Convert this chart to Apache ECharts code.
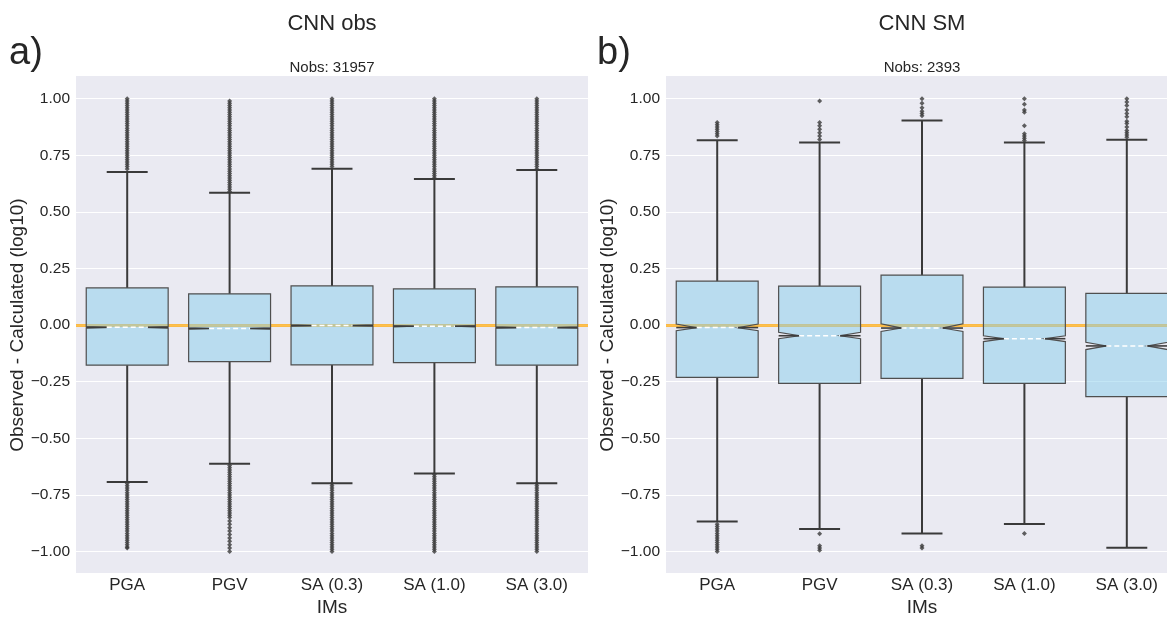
<!DOCTYPE html>
<html>
<head>
<meta charset="utf-8">
<script src="https://cdn.jsdelivr.net/npm/echarts@6/dist/echarts.min.js"></script>
<style>
html,body{margin:0;padding:0;background:#fff;overflow:hidden;}
#chart{width:1190px;height:617px;}
</style>
</head>
<body>
<div id="chart"></div>
<script>
// ---------------- data ----------------
const categories = ['PGA', 'PGV', 'SA (0.3)', 'SA (1.0)', 'SA (3.0)'];
const panelTitles = ['CNN obs', 'CNN SM'];
const panelLetters = ['a)', 'b)'];
const panelCounts = ['Nobs: 31957', 'Nobs: 2393'];
const xAxisTitle = 'IMs';
const yAxisTitle = 'Observed - Calculated (log10)';
const referenceValue = 0;

// Panel a) CNN obs
const obsWhiskerLow  = [-0.693, -0.612, -0.699, -0.655, -0.698];
const obsQ1          = [-0.177, -0.161, -0.176, -0.166, -0.177];
const obsNotchLow    = [-0.013, -0.018, -0.005, -0.008, -0.014];
const obsMedian      = [-0.010, -0.015, -0.002, -0.005, -0.011];
const obsNotchHigh   = [-0.007, -0.012,  0.001, -0.002, -0.008];
const obsQ3          = [ 0.164,  0.138,  0.173,  0.160,  0.169];
const obsWhiskerHigh = [ 0.676,  0.585,  0.691,  0.645,  0.685];
const obsOutliers = [
  [0.69,0.70,0.71,0.72,0.73,0.74,0.75,0.76,0.77,0.78,0.79,0.80,0.81,0.82,0.83,0.84,0.85,0.86,0.87,0.88,0.89,0.90,0.91,0.92,0.93,0.94,0.95,0.96,0.97,0.98,0.99,1.00,
   -0.70,-0.71,-0.72,-0.73,-0.74,-0.75,-0.76,-0.77,-0.78,-0.79,-0.80,-0.81,-0.82,-0.83,-0.84,-0.85,-0.86,-0.87,-0.88,-0.89,-0.90,-0.91,-0.92,-0.93,-0.94,-0.95,-0.96,-0.97,-0.98,-0.985],
  [0.59,0.60,0.61,0.62,0.63,0.64,0.65,0.66,0.67,0.68,0.69,0.70,0.71,0.72,0.73,0.74,0.75,0.76,0.77,0.78,0.79,0.80,0.81,0.82,0.83,0.84,0.85,0.86,0.87,0.88,0.89,0.90,0.91,0.92,0.93,0.94,0.95,0.96,0.97,0.98,0.99,
   -0.62,-0.63,-0.64,-0.65,-0.66,-0.67,-0.68,-0.69,-0.70,-0.71,-0.72,-0.73,-0.74,-0.75,-0.76,-0.77,-0.78,-0.79,-0.80,-0.81,-0.82,-0.83,-0.84,-0.85,-0.865,-0.88,-0.895,-0.91,-0.925,-0.94,-0.955,-0.97,-0.985,-1.00],
  [0.70,0.71,0.72,0.73,0.74,0.75,0.76,0.77,0.78,0.79,0.80,0.81,0.82,0.83,0.84,0.85,0.86,0.87,0.88,0.89,0.90,0.91,0.92,0.93,0.94,0.95,0.96,0.97,0.98,0.99,1.00,
   -0.70,-0.71,-0.72,-0.73,-0.74,-0.75,-0.76,-0.77,-0.78,-0.79,-0.80,-0.81,-0.82,-0.83,-0.84,-0.85,-0.86,-0.87,-0.88,-0.89,-0.90,-0.91,-0.92,-0.93,-0.94,-0.95,-0.96,-0.97,-0.98,-0.99,-1.00],
  [0.65,0.66,0.67,0.68,0.69,0.70,0.71,0.72,0.73,0.74,0.75,0.76,0.77,0.78,0.79,0.80,0.81,0.82,0.83,0.84,0.85,0.86,0.87,0.88,0.89,0.90,0.91,0.92,0.93,0.94,0.95,0.96,0.97,0.98,0.99,1.00,
   -0.66,-0.67,-0.68,-0.69,-0.70,-0.71,-0.72,-0.73,-0.74,-0.75,-0.76,-0.77,-0.78,-0.79,-0.80,-0.81,-0.82,-0.83,-0.84,-0.85,-0.86,-0.87,-0.88,-0.89,-0.90,-0.91,-0.92,-0.93,-0.94,-0.95,-0.96,-0.97,-0.98,-0.99,-1.00],
  [0.69,0.70,0.71,0.72,0.73,0.74,0.75,0.76,0.77,0.78,0.79,0.80,0.81,0.82,0.83,0.84,0.85,0.86,0.87,0.88,0.89,0.90,0.91,0.92,0.93,0.94,0.95,0.96,0.97,0.98,0.99,1.00,
   -0.70,-0.71,-0.72,-0.73,-0.74,-0.75,-0.76,-0.77,-0.78,-0.79,-0.80,-0.81,-0.82,-0.83,-0.84,-0.85,-0.86,-0.87,-0.88,-0.89,-0.90,-0.91,-0.92,-0.93,-0.94,-0.95,-0.96,-0.97,-0.98,-0.99,-1.00]
];

// Panel b) CNN SM
const smWhiskerLow  = [-0.867, -0.901, -0.921, -0.879, -0.983];
const smQ1          = [-0.231, -0.257, -0.235, -0.257, -0.316];
const smNotchLow    = [-0.025, -0.060, -0.028, -0.073, -0.108];
const smMedian      = [-0.011, -0.047, -0.013, -0.060, -0.092];
const smNotchHigh   = [ 0.005, -0.032,  0.006, -0.047, -0.076];
const smQ3          = [ 0.194,  0.172,  0.221,  0.168,  0.140];
const smWhiskerHigh = [ 0.816,  0.806,  0.904,  0.806,  0.819];
const smOutliers = [
  [0.835,0.845,0.855,0.865,0.875,0.885,0.895,
   -0.88,-0.89,-0.90,-0.91,-0.92,-0.93,-0.94,-0.95,-0.96,-0.97,-0.98,-0.99,-1.00],
  [0.82,0.835,0.85,0.865,0.88,0.895,0.99,
   -0.922,-0.975,-0.985,-0.995],
  [0.925,0.935,0.945,0.96,0.98,1.00,
   -0.975,-0.985],
  [0.815,0.825,0.835,0.845,0.88,0.94,0.95,0.975,1.00,
   -0.92],
  [0.83,0.84,0.85,0.86,0.875,0.89,0.90,0.92,0.935,0.95,0.97,0.985,1.00]
];

// ---------------- build ----------------
const FONT = '"Liberation Sans", Arial, sans-serif';
const TEXT = '#262626';

function boxRows(wl, q1, nl, md, nh, q3, wh) {
  return categories.map((c, i) => [i, wl[i], q1[i], nl[i], md[i], nh[i], q3[i], wh[i]]);
}
function outlierRows(list) {
  const rows = [];
  list.forEach((vals, i) => vals.forEach(v => rows.push([i, v])));
  return rows;
}

function renderBox(params, api) {
  const i = api.value(0);
  const wl = api.value(1), q1 = api.value(2), nl = api.value(3), md = api.value(4),
        nh = api.value(5), q3 = api.value(6), wh = api.value(7);
  const band = api.size([1, 0])[0];
  const bw = band * 0.8, half = bw / 2, ind = bw * 0.25, capHalf = bw * 0.25;
  const cx = api.coord([i, 0])[0];
  const y = v => api.coord([i, v])[1];
  const L = cx - half, R = cx + half;
  const whiskerStyle = { stroke: '#3a3a3a', lineWidth: 2 };
  return {
    type: 'group',
    children: [
      { type: 'line', shape: { x1: cx, y1: y(q3), x2: cx, y2: y(wh) }, style: whiskerStyle },
      { type: 'line', shape: { x1: cx, y1: y(q1), x2: cx, y2: y(wl) }, style: whiskerStyle },
      { type: 'line', shape: { x1: cx - capHalf, y1: y(wh), x2: cx + capHalf, y2: y(wh) }, style: whiskerStyle },
      { type: 'line', shape: { x1: cx - capHalf, y1: y(wl), x2: cx + capHalf, y2: y(wl) }, style: whiskerStyle },
      { type: 'polygon', shape: { points: [
          [L, y(q3)], [R, y(q3)], [R, y(nh)], [R - ind, y(md)], [R, y(nl)], [R, y(q1)],
          [L, y(q1)], [L, y(nl)], [L + ind, y(md)], [L, y(nh)]
        ] },
        style: { fill: 'rgba(135,206,235,0.5)', stroke: '#4f4f4f', lineWidth: 1.2 } },
      { type: 'line', shape: { x1: L, y1: y(md), x2: L + ind, y2: y(md) }, style: { stroke: '#3d3d3d', lineWidth: 1.6 } },
      { type: 'line', shape: { x1: R - ind, y1: y(md), x2: R, y2: y(md) }, style: { stroke: '#3d3d3d', lineWidth: 1.6 } },
      { type: 'line', shape: { x1: L + ind, y1: y(md), x2: R - ind, y2: y(md) },
        style: { stroke: '#ffffff', lineWidth: 1.5, lineDash: [5, 3] } }
    ]
  };
}

const gridLefts = [76, 666];
const gridWidth = 512;
const gridTop = 98.7;
const gridHeight = 452.8;
const bgTop = 76, bgHeight = 497;

const boxes = [
  boxRows(obsWhiskerLow, obsQ1, obsNotchLow, obsMedian, obsNotchHigh, obsQ3, obsWhiskerHigh),
  boxRows(smWhiskerLow, smQ1, smNotchLow, smMedian, smNotchHigh, smQ3, smWhiskerHigh)
];
const outs = [outlierRows(obsOutliers), outlierRows(smOutliers)];

const grids = [], xAxes = [], yAxes = [], series = [], graphics = [];
[0, 1].forEach(p => {
  grids.push({ left: gridLefts[p], top: gridTop, width: gridWidth, height: gridHeight,
    containLabel: false, outerBoundsMode: 'none' });
  xAxes.push({
    gridIndex: p, type: 'category', data: categories, boundaryGap: true,
    axisLine: { show: false }, axisTick: { show: false }, splitLine: { show: false },
    axisLabel: { color: TEXT, fontFamily: FONT, fontSize: 17, margin: 25 },
    name: xAxisTitle, nameLocation: 'middle', nameGap: 40,
    nameTextStyle: { color: TEXT, fontFamily: FONT, fontSize: 19 }
  });
  yAxes.push({
    gridIndex: p, type: 'value', min: -1, max: 1, interval: 0.25,
    axisLine: { show: false }, axisTick: { show: false },
    splitLine: { show: true, lineStyle: { color: '#ffffff', width: 1 } },
    axisLabel: { color: TEXT, fontFamily: FONT, fontSize: 15.5, margin: 6,
      formatter: v => (v < 0 ? '\u2212' : '') + Math.abs(v).toFixed(2) },
    name: yAxisTitle, nameLocation: 'middle', nameGap: 43,
    nameTextStyle: { color: TEXT, fontFamily: FONT, fontSize: 19 }
  });
  series.push({
    type: 'scatter', xAxisIndex: p, yAxisIndex: p, z: 1,
    data: outs[p], symbol: 'diamond', symbolSize: 5,
    itemStyle: { color: '#3a3a3a' }, silent: true,
    markLine: {
      z: 1, silent: true, symbol: 'none', label: { show: false },
      lineStyle: { color: 'rgba(255,165,0,0.7)', width: 3, type: 'solid' },
      data: [{ yAxis: referenceValue }]
    }
  });
  series.push({
    type: 'custom', xAxisIndex: p, yAxisIndex: p, z: 3,
    data: boxes[p], renderItem: renderBox,
    encode: { x: 0, y: [1, 2, 3, 4, 5, 6, 7] }, silent: true, clip: false
  });
  const cx = gridLefts[p] + gridWidth / 2;
  graphics.push({ type: 'rect', z: -100, silent: true,
    shape: { x: gridLefts[p], y: bgTop, width: gridWidth, height: bgHeight },
    style: { fill: '#eaeaf2' } });
  graphics.push({ type: 'text', x: cx, y: 24, silent: true,
    style: { text: panelTitles[p], font: '22px ' + FONT, fill: TEXT,
      textAlign: 'center', textVerticalAlign: 'middle', align: 'center', verticalAlign: 'middle' } });
  graphics.push({ type: 'text', x: cx, y: 68, silent: true,
    style: { text: panelCounts[p], font: '15px ' + FONT, fill: TEXT,
      textAlign: 'center', textVerticalAlign: 'middle', align: 'center', verticalAlign: 'middle' } });
  graphics.push({ type: 'text', x: p === 0 ? 9 : 597, y: 54, silent: true,
    style: { text: panelLetters[p], font: '38px ' + FONT, fill: TEXT,
      textAlign: 'left', textVerticalAlign: 'middle', align: 'left', verticalAlign: 'middle' } });
});

const chart = echarts.init(document.getElementById('chart'), null, { renderer: 'canvas' });
chart.setOption({
  animation: false,
  backgroundColor: '#ffffff',
  grid: grids, xAxis: xAxes, yAxis: yAxes, series: series,
  graphic: { elements: graphics }
});
</script>
</body>
</html>
